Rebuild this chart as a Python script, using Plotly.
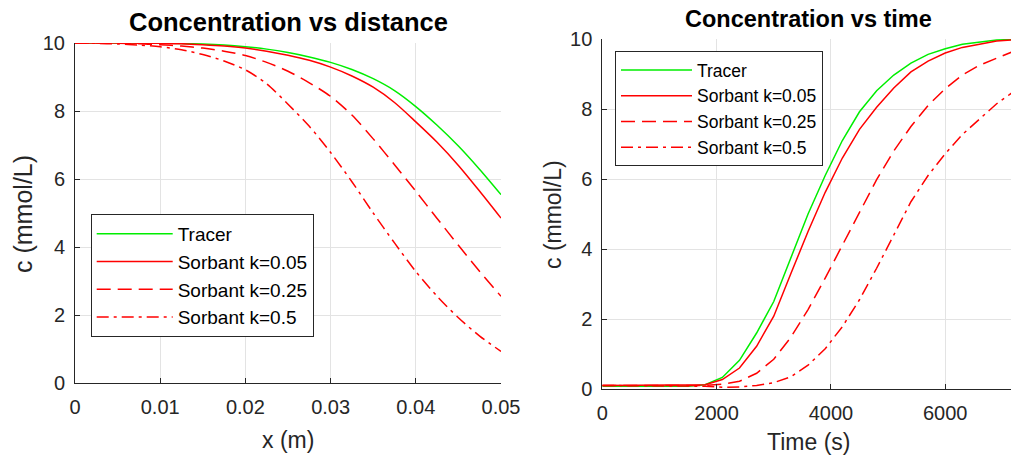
import plotly.graph_objects as go

# ---------------- data: concentration vs distance ----------------
dist_x = [0, 0.0025, 0.005, 0.0075, 0.01, 0.0125, 0.015, 0.0175, 0.02, 0.0225,
          0.025, 0.0275, 0.03, 0.0325, 0.035, 0.0375, 0.04, 0.0425, 0.045, 0.0475, 0.05]
dist_tracer = [10, 10, 10, 10, 9.995, 9.985, 9.97, 9.94, 9.89, 9.82,
               9.72, 9.59, 9.43, 9.22, 8.95, 8.6, 8.13, 7.58, 6.97, 6.28, 5.54]
dist_k005 = [10, 10, 10, 9.995, 9.99, 9.98, 9.95, 9.91, 9.85, 9.76,
             9.64, 9.49, 9.29, 9.03, 8.7, 8.25, 7.68, 7.08, 6.4, 5.64, 4.85]
dist_k025 = [10, 10, 9.99, 9.98, 9.95, 9.91, 9.85, 9.76, 9.63, 9.43,
             9.17, 8.83, 8.43, 7.88, 7.18, 6.42, 5.64, 4.84, 4.05, 3.28, 2.55]
dist_k05 = [10, 9.99, 9.97, 9.94, 9.89, 9.8, 9.66, 9.47, 9.21, 8.8,
            8.2, 7.55, 6.78, 5.92, 5.0, 4.12, 3.28, 2.55, 1.92, 1.38, 0.93]

# ---------------- data: concentration vs time ----------------
time_s = [0, 300, 600, 900, 1200, 1500, 1800, 2100, 2400, 2700, 3000, 3300, 3600,
          3900, 4200, 4500, 4800, 5100, 5400, 5700, 6000, 6300, 6600, 6900, 7200]
time_tracer = [0.08, 0.08, 0.08, 0.08, 0.08, 0.08, 0.12, 0.33, 0.82, 1.6, 2.5, 3.75, 5.0,
               6.1, 7.1, 7.92, 8.52, 8.97, 9.31, 9.56, 9.72, 9.85, 9.92, 9.97, 9.99]
time_k005 = [0.1, 0.1, 0.1, 0.1, 0.1, 0.1, 0.12, 0.27, 0.6, 1.22, 2.08, 3.3, 4.5,
             5.62, 6.6, 7.42, 8.05, 8.6, 9.06, 9.37, 9.6, 9.76, 9.86, 9.94, 9.98]
time_k025 = [0.1, 0.1, 0.1, 0.1, 0.1, 0.1, 0.1, 0.14, 0.22, 0.45, 0.85, 1.48, 2.27,
             3.17, 4.1, 5.05, 5.98, 6.8, 7.5, 8.1, 8.58, 8.97, 9.25, 9.45, 9.65]
time_k05 = [0.1, 0.1, 0.1, 0.1, 0.1, 0.1, 0.08, 0.05, 0.06, 0.1, 0.18, 0.35, 0.68,
            1.15, 1.78, 2.55, 3.45, 4.4, 5.35, 6.1, 6.72, 7.27, 7.72, 8.15, 8.5]

series_names = ["Tracer", "Sorbant k=0.05", "Sorbant k=0.25", "Sorbant k=0.5"]
x_ticks_dist = [0, 0.01, 0.02, 0.03, 0.04, 0.05]
x_ticks_time = [0, 2000, 4000, 6000]
y_ticks = [0, 2, 4, 6, 8, 10]

W, H = 1011, 459
FONT = "Liberation Sans, Arial, Helvetica, sans-serif"
AX = "#262626"
GRID = "#e3e3e3"
GREEN = "#00ee00"
RED = "#ff0000"
styles = [(GREEN, "solid"), (RED, "solid"), (RED, "14px,7px"), (RED, "12px,5px,3px,5px")]

def px_x(p):
    return p / W

def px_y(p):
    return (H - p) / H

fig = go.Figure()

for name, vals, (col, dash) in zip(series_names, [dist_tracer, dist_k005, dist_k025, dist_k05], styles):
    fig.add_trace(go.Scatter(x=dist_x, y=vals, mode="lines", name=name,
                             line=dict(color=col, width=1.5, dash=dash, shape="spline", smoothing=0.8),
                             xaxis="x", yaxis="y", legend="legend", hoverinfo="skip"))

for name, vals, (col, dash) in zip(series_names, [time_tracer, time_k005, time_k025, time_k05], styles):
    fig.add_trace(go.Scatter(x=time_s, y=vals, mode="lines", name=name,
                             line=dict(color=col, width=1.5, dash=dash),
                             xaxis="x2", yaxis="y2", legend="legend2", hoverinfo="skip"))

axis_common = dict(showgrid=True, gridcolor=GRID, gridwidth=1, zeroline=False,
                   showline=True, linecolor=AX, linewidth=1, ticks="inside", ticklen=5,
                   tickcolor=AX, tickwidth=1, tickfont=dict(family=FONT, size=20, color=AX),
                   automargin=False, fixedrange=True)

fig.update_layout(
    width=W, height=H,
    margin=dict(l=0, r=0, t=0, b=0),
    paper_bgcolor="white", plot_bgcolor="white",
    xaxis=dict(domain=[px_x(75), px_x(501)], range=[0, 0.05], tickvals=x_ticks_dist,
               anchor="y", ticklabelstandoff=6, **axis_common),
    yaxis=dict(domain=[px_y(383), px_y(43)], range=[0, 10], tickvals=y_ticks,
               anchor="x", ticklabelstandoff=5, **axis_common),
    xaxis2=dict(domain=[px_x(602.3), 1.0], range=[0, 7151], tickvals=x_ticks_time,
                anchor="y2", ticklabelstandoff=6, **axis_common),
    yaxis2=dict(domain=[px_y(389), px_y(39)], range=[0, 10], tickvals=y_ticks,
                anchor="x2", ticklabelstandoff=5, **axis_common),
    legend=dict(x=px_x(90.7), y=px_y(214), xanchor="left", yanchor="top",
                bgcolor="white", bordercolor=AX, borderwidth=1, itemwidth=76,
                font=dict(family=FONT, size=19, color="black"), tracegroupgap=0),
    legend2=dict(x=px_x(615), y=px_y(51), xanchor="left", yanchor="top",
                 bgcolor="white", bordercolor=AX, borderwidth=1, itemwidth=71,
                 font=dict(family=FONT, size=17.5, color="black"), tracegroupgap=0),
    showlegend=True,
)

ann = [
    dict(text="<b>Concentration vs distance</b>", x=px_x(288), y=px_y(22), size=25.5, color="black", angle=0),
    dict(text="<b>Concentration vs time</b>", x=px_x(808), y=px_y(19.5), size=23.5, color="black", angle=0),
    dict(text="x (m)", x=px_x(288), y=px_y(440), size=23, color=AX, angle=0),
    dict(text="Time (s)", x=px_x(808), y=px_y(442), size=23, color=AX, angle=0),
    dict(text="c (mmol/L)", x=px_x(23), y=px_y(214), size=25, color=AX, angle=-90),
    dict(text="c (mmol/L)", x=px_x(553), y=px_y(215), size=23, color=AX, angle=-90),
]
for a in ann:
    fig.add_annotation(text=a["text"], x=a["x"], y=a["y"], xref="paper", yref="paper",
                       xanchor="center", yanchor="middle", showarrow=False, textangle=a["angle"],
                       font=dict(family=FONT, size=a["size"], color=a["color"]))

fig.write_html("out.html",
               config={"displayModeBar": False, "staticPlot": False},
               post_script="document.body.style.margin='0';"
                           "document.documentElement.style.overflow='hidden';")
